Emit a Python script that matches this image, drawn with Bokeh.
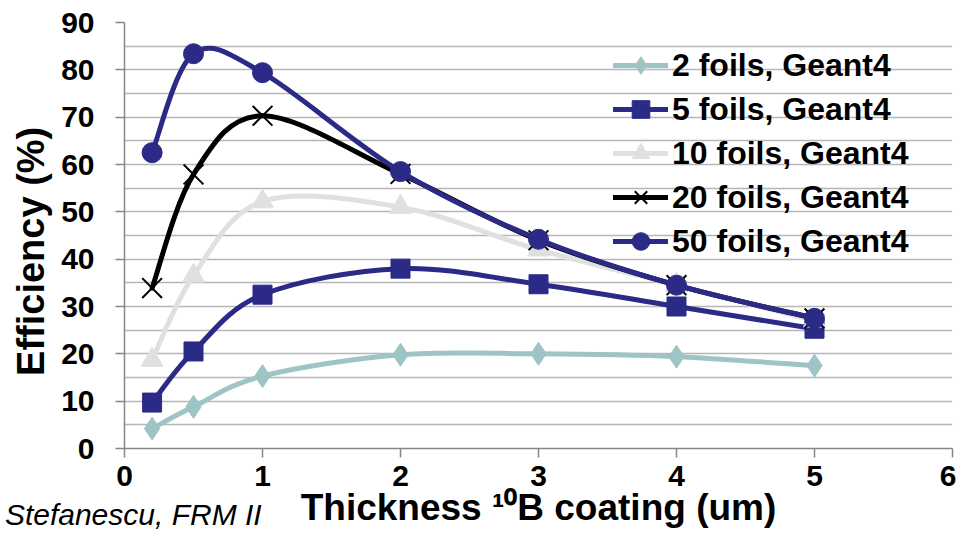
from bokeh.plotting import figure
from bokeh.models import (ColumnDataSource, FixedTicker, Legend, LegendItem, Range1d,
                          LinearAxis)
from bokeh.embed import file_html
from bokeh.resources import INLINE

# ---- data ----
thickness = [0.2, 0.5, 1, 2, 3, 4, 5]
eff_2_foils = [4.2, 8.8, 15.3, 19.8, 20.0, 19.4, 17.5]
eff_5_foils = [9.7, 20.5, 32.5, 38.0, 34.7, 30.0, 25.3]
eff_10_foils = [18.7, 36.5, 52.2, 51.0, 42.0, 34.5, 27.0]
eff_20_foils = [33.9, 57.9, 70.3, 58.0, 44.0, 34.5, 27.5]
eff_50_foils = [62.5, 83.4, 79.4, 58.5, 44.2, 34.5, 27.5]
series_labels = ["2 foils, Geant4", "5 foils, Geant4", "10 foils, Geant4",
                 "20 foils, Geant4", "50 foils, Geant4"]
x_ticks = [0, 1, 2, 3, 4, 5, 6]
y_ticks = [0, 10, 20, 30, 40, 50, 60, 70, 80, 90]
note_text = "Stefanescu, FRM II"

FONT = "Liberation Sans"
NAVY = "#2B2A86"

p = figure(width=956, height=538, output_backend="svg", toolbar_location=None,
           x_range=Range1d(0, 6), y_range=Range1d(0, 90),
           min_border_left=124, min_border_right=4, min_border_top=22,
           min_border_bottom=90)
p.outline_line_color = None
p.background_fill_color = "white"
p.border_fill_color = "white"

# axes
for ax in (p.xaxis[0], p.yaxis[0]):
    ax.axis_line_color = "#868686"
    ax.axis_line_width = 1.5
    ax.major_tick_line_color = "#868686"
    ax.major_tick_line_width = 1.5
    ax.major_tick_out = 9
    ax.major_tick_in = 0
    ax.minor_tick_line_color = None
    ax.major_label_text_font = FONT
    ax.major_label_text_font_style = "bold"
    ax.major_label_text_font_size = "30px"
    ax.major_label_text_color = "black"
    ax.axis_label_text_font = FONT
    ax.axis_label_text_font_style = "bold"
    ax.axis_label_text_color = "black"

p.xaxis.ticker = FixedTicker(ticks=x_ticks)
p.yaxis.ticker = FixedTicker(ticks=y_ticks)
p.xaxis.major_label_standoff = 8
p.yaxis.major_label_standoff = 21
p.xaxis.axis_label = "Thickness \u00b9\u2070B coating (um)"
p.xaxis.axis_label_text_font_size = "37px"
p.xaxis.axis_label_standoff = -2
# trailing no-break spaces shift the centred label slightly downwards, as in the reference
p.yaxis.axis_label = "Efficiency (%)" + "\u00a0\u00a0\u00a0"
p.yaxis.axis_label_text_font_size = "38px"
p.yaxis.axis_label_standoff = 6

p.xgrid.grid_line_color = None
p.ygrid.ticker = FixedTicker(ticks=[v / 2 for v in range(0, 181, 10)])
p.ygrid.grid_line_color = "#B6B6B6"
p.ygrid.grid_line_width = 1.5


def smooth_source(xs, ys):
    """Cubic Bezier segments through the data points (Excel-like smoothing)."""
    n = len(xs)
    d = dict(x0=[], y0=[], x1=[], y1=[], cx0=[], cy0=[], cx1=[], cy1=[])
    for i in range(n - 1):
        xp, yp = (xs[i - 1], ys[i - 1]) if i > 0 else (xs[i], ys[i])
        xn, yn = (xs[i + 2], ys[i + 2]) if i + 2 < n else (xs[i + 1], ys[i + 1])
        d["x0"].append(xs[i]); d["y0"].append(ys[i])
        d["x1"].append(xs[i + 1]); d["y1"].append(ys[i + 1])
        d["cx0"].append(xs[i] + (xs[i + 1] - xp) / 6)
        d["cy0"].append(ys[i] + (ys[i + 1] - yp) / 6)
        d["cx1"].append(xs[i + 1] - (xn - xs[i]) / 6)
        d["cy1"].append(ys[i + 1] - (yn - ys[i]) / 6)
    return ColumnDataSource(d)


styles = [
    (eff_2_foils, "#9EC4C6", "diamond", 23, 1),
    (eff_5_foils, NAVY, "square", 19, 1),
    (eff_10_foils, "#E0E0E0", "triangle", 22, 1),
    (eff_20_foils, "black", "x", 28, 2),
    (eff_50_foils, NAVY, "circle", 20, 1),
]

items = []
for label, (vals, color, marker, size, mlw) in zip(series_labels, styles):
    bez = p.bezier(x0="x0", y0="y0", x1="x1", y1="y1", cx0="cx0", cy0="cy0",
                   cx1="cx1", cy1="cy1", source=smooth_source(thickness, vals),
                   line_color=color, line_width=5, line_cap="round")
    src = ColumnDataSource(dict(x=thickness, y=vals))
    if marker == "x":
        sc = p.scatter("x", "y", source=src, marker=marker, size=size,
                       line_color=color, line_width=mlw)
    else:
        sc = p.scatter("x", "y", source=src, marker=marker, size=size,
                       fill_color=color, line_color=color, line_width=mlw)
    items.append(LegendItem(label=label, renderers=[bez, sc]))

legend = Legend(items=items, location=(489, 185))
legend.glyph_width = 55
legend.glyph_height = 44
legend.label_height = 44
legend.spacing = 0
legend.padding = 0
legend.margin = 0
legend.label_standoff = 4
legend.label_text_font = FONT
legend.label_text_font_style = "bold"
legend.label_text_font_size = "32px"
legend.label_text_color = "black"
legend.border_line_color = None
legend.background_fill_alpha = 0
p.add_layout(legend, "center")

# source note at bottom-left: drawn as the single tick label of an extra,
# line-less axis placed at the left end of the x axis
note_axis = LinearAxis(ticker=FixedTicker(ticks=[0]),
                       major_label_overrides={0: note_text})
note_axis.axis_line_color = None
note_axis.major_tick_line_color = None
note_axis.minor_tick_line_color = None
note_axis.major_tick_out = 0
note_axis.major_tick_in = 0
note_axis.major_label_standoff = -33
note_axis.major_label_text_font = FONT
note_axis.major_label_text_font_style = "italic"
note_axis.major_label_text_font_size = "30px"
note_axis.major_label_text_color = "black"
p.add_layout(note_axis, "below")

open("out.html", "w").write(file_html(p, INLINE))
